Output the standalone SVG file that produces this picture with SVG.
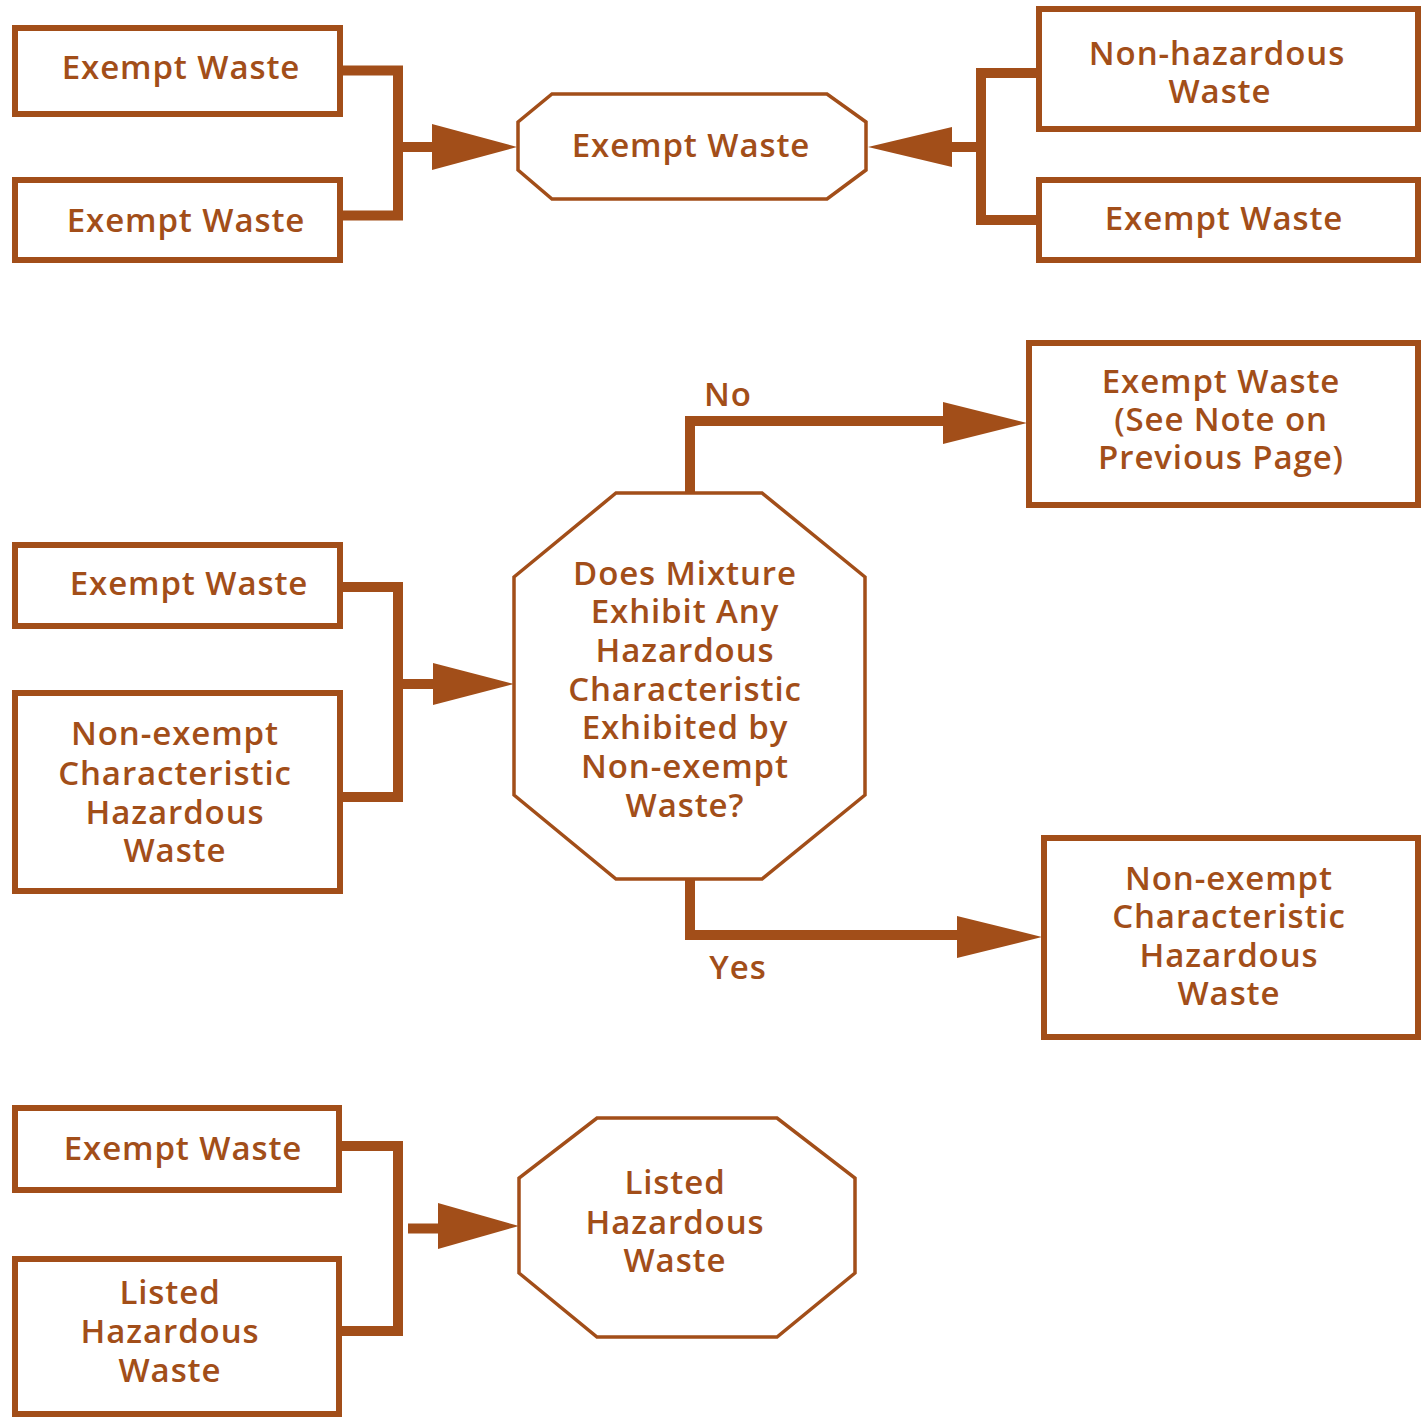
<svg xmlns="http://www.w3.org/2000/svg" width="1427" height="1421" viewBox="0 0 1427 1421">
<style>
  .box { fill: #ffffff; stroke: #a24e19; stroke-width: 6; }
  .oct { fill: #ffffff; stroke: #a24e19; stroke-width: 3.5; stroke-linejoin: miter; }
  .wire { fill: none; stroke: #a24e19; stroke-width: 10; stroke-linejoin: miter; stroke-linecap: butt; }
  .head { fill: #a24e19; stroke: none; }
  text { font-family: "Open Sans", "Liberation Sans", sans-serif; font-size: 33px; font-weight: 600; fill: #a24e19; text-anchor: middle; letter-spacing: 0.9px; }
</style>
<rect width="1427" height="1421" fill="#ffffff"/>

<g id="connectors">
  <path class="wire" d="M340,70.5 H398 V215.5 H340"/>
  <path class="wire" d="M398,147 H436"/>
  <polygon class="head" points="432,124 517,147 432,170"/>

  <path class="wire" d="M1039,73 H981 V220 H1039"/>
  <path class="wire" d="M981,147 H948"/>
  <polygon class="head" points="952,127 868,147 952,167"/>

  <path class="wire" d="M340,587 H398 V797 H340"/>
  <path class="wire" d="M398,684 H436"/>
  <polygon class="head" points="433,663 514,684 433,705"/>

  <path class="wire" d="M690,493 V421 H946"/>
  <polygon class="head" points="943,402 1027,423 943,444"/>
  <text x="728" y="406">No</text>

  <path class="wire" d="M690,879 V935 H960"/>
  <polygon class="head" points="957,916 1042,937 957,958"/>
  <text x="738" y="979">Yes</text>

  <path class="wire" d="M340,1146 H398 V1331 H340"/>
  <path class="wire" d="M408,1228.5 H441"/>
  <polygon class="head" points="438,1203 519,1226 438,1249"/>
</g>

<g id="n1">
  <rect class="box" x="15" y="28" width="325" height="86"/>
  <text x="181" y="79">Exempt Waste</text>
</g>
<g id="n2">
  <rect class="box" x="15" y="180" width="325" height="80"/>
  <text x="186" y="232">Exempt Waste</text>
</g>
<g id="n3">
  <polygon class="oct" points="552,94 827,94 866,122 866,170 827,199 552,199 518,170 518,122"/>
  <text x="691" y="157">Exempt Waste</text>
</g>
<g id="n4">
  <rect class="box" x="1039" y="9" width="379" height="120"/>
  <text x="1217" y="65">Non-hazardous</text>
  <text x="1220" y="103">Waste</text>
</g>
<g id="n5">
  <rect class="box" x="1039" y="180" width="379" height="80"/>
  <text x="1224" y="230">Exempt Waste</text>
</g>

<g id="n6">
  <rect class="box" x="15" y="545" width="325" height="81"/>
  <text x="189" y="595">Exempt Waste</text>
</g>
<g id="n7">
  <rect class="box" x="15" y="693" width="325" height="198"/>
  <text x="175" y="745">Non-exempt</text>
  <text x="175" y="785">Characteristic</text>
  <text x="175" y="824">Hazardous</text>
  <text x="175" y="862">Waste</text>
</g>
<g id="n8">
  <polygon class="oct" points="616,493 762,493 865,577 865,795 762,879 616,879 514,795 514,577"/>
  <text x="685" y="585">Does Mixture</text>
  <text x="685" y="623">Exhibit Any</text>
  <text x="685" y="662">Hazardous</text>
  <text x="685" y="701">Characteristic</text>
  <text x="685" y="739">Exhibited by</text>
  <text x="685" y="778">Non-exempt</text>
  <text x="685" y="817">Waste?</text>
</g>
<g id="n9">
  <rect class="box" x="1029" y="343" width="389" height="162"/>
  <text x="1221" y="393">Exempt Waste</text>
  <text x="1221" y="431">(See Note on</text>
  <text x="1221" y="469">Previous Page)</text>
</g>
<g id="n10">
  <rect class="box" x="1044" y="838" width="374" height="199"/>
  <text x="1229" y="890">Non-exempt</text>
  <text x="1229" y="928">Characteristic</text>
  <text x="1229" y="967">Hazardous</text>
  <text x="1229" y="1005">Waste</text>
</g>

<g id="n11">
  <rect class="box" x="15" y="1108" width="324" height="82"/>
  <text x="183" y="1160">Exempt Waste</text>
</g>
<g id="n12">
  <rect class="box" x="15" y="1259" width="324" height="155"/>
  <text x="170" y="1304">Listed</text>
  <text x="170" y="1343">Hazardous</text>
  <text x="170" y="1382">Waste</text>
</g>
<g id="n13">
  <polygon class="oct" points="597,1118 777,1118 855,1178 855,1273 777,1337 597,1337 519,1273 519,1178"/>
  <text x="675" y="1194">Listed</text>
  <text x="675" y="1234">Hazardous</text>
  <text x="675" y="1272">Waste</text>
</g>
</svg>
